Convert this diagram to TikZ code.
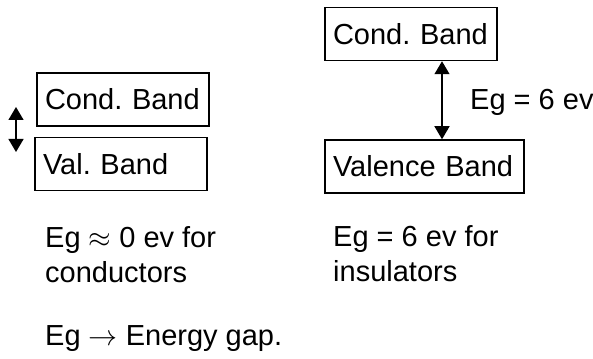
\documentclass[tikz,border=0pt]{standalone}
\usepackage{fix-cm}
\usepackage{fontspec}
\setmainfont{Liberation Sans}
\usetikzlibrary{arrows.meta}

\begin{document}
\begin{tikzpicture}[x=1pt,y=-1pt,
  every node/.style={font=\fontsize{29}{35}\selectfont},
  band/.style={draw, line width=1.5pt, align=left, inner ysep=0pt, inner xsep=8pt, minimum height=53pt},
  gap/.style={{Triangle[length=13pt,width=15pt]}-{Triangle[length=13pt,width=15pt]}, line width=1.3pt},
  note/.style={anchor=base west, align=left, inner sep=0pt}]
  \useasboundingbox (0,0) rectangle (593,358);
  % band boxes: conductor (left) and insulator (right)
  \node[band, text width=156pt] (condL) at (123,99.5) {Cond.~Band};
  \node[band, text width=156pt] (valL) at (121,164) {Val.~Band};
  \node[band, text width=156pt] (condR) at (411,34) {Cond.~Band};
  \node[band, text width=183pt] (valR) at (424.5,166.5) {Valence~Band};
  % energy gap arrows
  \coordinate (gtop) at (16,107);
  \coordinate (gbot) at (16,152);
  \coordinate (gx) at (442,0);
  \draw[gap] (gtop) -- (gbot);
  \draw[gap] (condR.south -| gx) -- (valR.north -| gx);
  \node[anchor=base west, inner sep=0pt] (eglabel) at (470,110) {Eg = 6 ev};
  % notes (base = last line)
  \node[note] (cnote) at (45,282) {Eg $\approx$ 0 ev for\\conductors};
  \node[note] (inote) at (333,281) {Eg = 6 ev for\\insulators};
  \node[note] (egdef) at (45,345) {Eg $\rightarrow$ Energy gap.};
\end{tikzpicture}
\end{document}
